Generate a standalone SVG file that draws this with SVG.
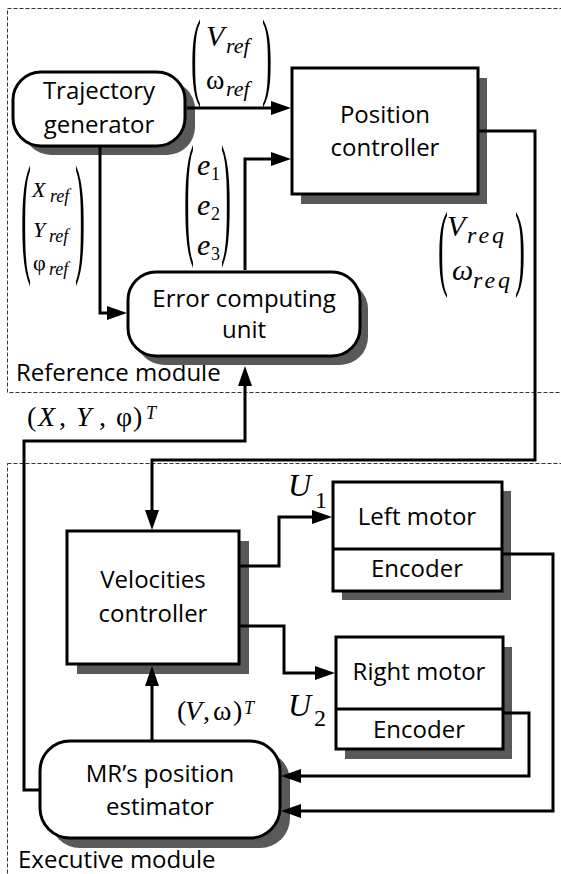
<svg xmlns="http://www.w3.org/2000/svg" width="561" height="874" viewBox="0 0 561 874">
<style>
.box{fill:#fff;stroke:#000;stroke-width:3}
.sh{fill:#595959}
.lbl{font-family:"Open Sans","Liberation Sans",sans-serif;font-size:24px;fill:#000}
.mid{text-anchor:middle}
.m{font-family:"Liberation Serif","Times New Roman",serif;fill:#000}
.it{font-style:italic}
.wire{fill:none;stroke:#000;stroke-width:3;marker-end:url(#ah)}
.dash{fill:none;stroke:#333;stroke-width:1;stroke-dasharray:4 2}
.par{font-family:"Liberation Serif","Times New Roman",serif;font-size:30px;fill:#000}
</style>
<defs>
<marker id="ah" markerUnits="userSpaceOnUse" markerWidth="20" markerHeight="14" refX="14" refY="7" orient="auto" viewBox="0 0 20 14">
<path d="M0,0 L20,7 L0,14 z" fill="#000"/>
</marker>
</defs>

<g id="modules">
<rect class="dash" x="7.5" y="8.5" width="570" height="384"/>
<rect class="dash" x="7.5" y="463.5" width="570" height="430"/>
<text class="lbl" x="16" y="381">Reference module</text>
<text class="lbl" x="18" y="868">Executive module</text>
</g>

<g id="trajectory">
<rect class="sh" x="23" y="81" width="172" height="74" rx="28"/>
<rect class="box" x="13" y="72" width="172" height="74" rx="28"/>
<text class="lbl mid" x="99" y="99">Trajectory</text>
<text class="lbl mid" x="99" y="133">generator</text>
</g>

<g id="position">
<rect class="sh" x="301" y="78" width="186" height="126"/>
<rect class="box" x="292" y="68" width="186" height="126"/>
<text class="lbl mid" x="385" y="123">Position</text>
<text class="lbl mid" x="385" y="156">controller</text>
</g>

<g id="error">
<rect class="sh" x="136" y="281" width="232" height="84" rx="28"/>
<rect class="box" x="128" y="272" width="232" height="84" rx="28"/>
<text class="lbl mid" x="244" y="307">Error computing</text>
<text class="lbl mid" x="244" y="338">unit</text>
</g>

<g id="velocities">
<rect class="sh" x="77" y="541" width="172" height="133"/>
<rect class="box" x="67" y="531" width="172" height="133"/>
<text class="lbl mid" x="153" y="588">Velocities</text>
<text class="lbl mid" x="153" y="622">controller</text>
</g>

<g id="leftmotor">
<rect class="sh" x="342" y="491" width="169" height="109"/>
<rect class="box" x="333" y="482" width="169" height="109"/>
<line x1="333" y1="549" x2="502" y2="549" stroke="#000" stroke-width="3"/>
<text class="lbl mid" x="417" y="525">Left motor</text>
<text class="lbl mid" x="417" y="577">Encoder</text>
</g>

<g id="rightmotor">
<rect class="sh" x="345" y="647" width="167" height="112"/>
<rect class="box" x="336" y="637" width="167" height="112"/>
<line x1="336" y1="709" x2="503" y2="709" stroke="#000" stroke-width="3"/>
<text class="lbl mid" x="419" y="680">Right motor</text>
<text class="lbl mid" x="419" y="738">Encoder</text>
</g>

<g id="estimator">
<rect class="sh" x="50" y="751" width="240" height="97" rx="30"/>
<rect class="box" x="40" y="741" width="240" height="97" rx="30"/>
<text class="lbl mid" x="160" y="782">MR’s position</text>
<text class="lbl mid" x="160" y="815">estimator</text>
</g>

<g id="connectors">
<path class="wire" d="M187,108 H285"/>
<path class="wire" d="M245,270 V159 H285"/>
<path class="wire" d="M100,147 V313 H121"/>
<path class="wire" d="M478,131 H535 V460 H152 V524"/>
<path class="wire" d="M40,790 H24 V441 H245 V372"/>
<path class="wire" d="M152,741 V672"/>
<path class="wire" d="M239,566 H279 V517 H326"/>
<path class="wire" d="M239,626 H284 V673 H329"/>
<path class="wire" d="M502,554 H553 V811 H287"/>
<path class="wire" d="M503,713 H529 V776 H287"/>
</g>

<g id="labels">
<!-- V_ref / omega_ref -->
<text class="par" transform="translate(191,62) scale(1,3.28)" y="7.5">(</text>
<text class="par" transform="translate(262,62) scale(1,3.28)" y="7.5">)</text>
<text class="m it" x="206" y="46" font-size="30">V</text>
<text class="m it" x="226" y="53" font-size="22">ref</text>
<text class="m" x="206" y="89" font-size="28">ω</text>
<text class="m it" x="226" y="96" font-size="22">ref</text>

<!-- e matrix -->
<text class="par" transform="translate(184,205) scale(1,4.53)" y="7.5">(</text>
<text class="par" transform="translate(221,205) scale(1,4.53)" y="7.5">)</text>
<text class="m it" x="197" y="175" font-size="30">e</text>
<text class="m" x="211" y="180" font-size="18">1</text>
<text class="m it" x="197" y="215" font-size="30">e</text>
<text class="m" x="211" y="220" font-size="18">2</text>
<text class="m it" x="197" y="255" font-size="30">e</text>
<text class="m" x="211" y="260" font-size="18">3</text>

<!-- X_ref matrix -->
<text class="par" transform="translate(21,225) scale(1,4.45)" y="7.5">(</text>
<text class="par" transform="translate(75,225) scale(1,4.45)" y="7.5">)</text>
<text class="m it" x="32" y="197" font-size="22">X</text>
<text class="m it" x="50" y="202" font-size="18">ref</text>
<text class="m it" x="33" y="237" font-size="22">Y</text>
<text class="m it" x="49" y="242" font-size="18">ref</text>
<text class="m" x="33" y="270" font-size="22">φ</text>
<text class="m it" x="49" y="275" font-size="18">ref</text>

<!-- V_req matrix -->
<text class="par" transform="translate(438,254) scale(1,3.2)" y="7.5">(</text>
<text class="par" transform="translate(515,254) scale(1,3.2)" y="7.5">)</text>
<text class="m it" x="447" y="236" font-size="30">V</text>
<text class="m it" x="467" y="243" font-size="24" letter-spacing="3">req</text>
<text class="m it" x="452" y="280" font-size="30">ω</text>
<text class="m it" x="473" y="288" font-size="24" letter-spacing="3">req</text>

<!-- (X, Y, phi)^T -->
<text class="m" y="426" font-size="28"><tspan x="27">(</tspan><tspan x="38" class="it">X</tspan><tspan x="59">,</tspan><tspan x="76" class="it">Y</tspan><tspan x="99">,</tspan><tspan x="116">φ</tspan><tspan x="133">)</tspan></text>
<text class="m it" x="146" y="419" font-size="18">T</text>

<!-- (V, omega)^T -->
<text class="m" y="720" font-size="28"><tspan x="177">(</tspan><tspan x="185" class="it">V</tspan><tspan x="203">,</tspan><tspan x="213">ω</tspan><tspan x="233">)</tspan></text>
<text class="m it" x="244" y="714" font-size="18">T</text>

<!-- U1, U2 -->
<text class="m it" x="288" y="496" font-size="32">U</text>
<text class="m" x="315" y="508" font-size="24">1</text>
<text class="m it" x="288" y="716" font-size="32">U</text>
<text class="m" x="314" y="726" font-size="24">2</text>
</g>
</svg>
